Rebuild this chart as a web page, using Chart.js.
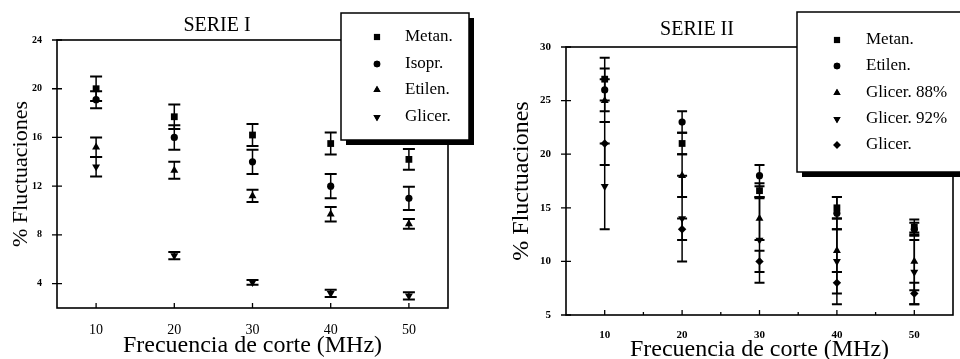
<!DOCTYPE html>
<html>
<head>
<meta charset="utf-8">
<script src="https://cdn.jsdelivr.net/npm/chart.js@4.4.1/dist/chart.umd.min.js"></script>
<style>
body{margin:0;background:#fff;}
#wrap{position:relative;width:960px;height:359px;overflow:hidden;background:#fff;}
canvas{position:absolute;top:0;}
</style>
</head>
<body>
<div id="wrap">
  <canvas id="c1" width="480" height="359" style="left:0"></canvas>
  <canvas id="c2" width="480" height="359" style="left:480px"></canvas>
</div>
<script>
// frecuencia de corte (MHz)
const freq=[10,20,30,40,50];
const xTicks=[10,20,30,40,50];
const xMinor=[15,25,35,45];

// SERIE I
const yTicks1=[4,8,12,16,20,24];
const metan1=[20.0,17.7,16.2,15.5,14.2],  metan1Err=[1.0,1.0,0.9,0.9,0.85];
const isopr1=[19.1,16.0,14.0,12.0,11.0],  isopr1Err=[0.7,1.0,1.0,1.0,0.95];
const etilen1=[15.2,13.3,11.2,9.7,8.9],   etilen1Err=[0.8,0.7,0.5,0.6,0.4];
const glicer1=[13.6,6.3,4.1,3.2,3.0],     glicer1Err=[0.8,0.3,0.2,0.3,0.3];

// SERIE II
const yTicks2=[5,10,15,20,25,30];
const metan2=[27.0,21.0,16.6,15.0,13.2],    metan2Err=[2.0,1.0,0.7,1.0,0.7];
const etilen2=[26.0,23.0,18.0,14.5,13.0],   etilen2Err=[2.0,1.0,1.0,1.5,0.6];
const glicer88=[25.0,18.0,14.0,11.0,10.0],  glicer88Err=[2.0,2.0,2.0,2.0,2.7];
const glicer92=[17.0,14.0,12.0,10.0,9.0],   glicer92Err=[4.0,4.0,4.0,4.0,3.0];
const glicer2=[21.0,13.0,10.0,8.0,7.0],     glicer2Err=[2.0,1.0,1.0,1.0,1.0];

const SERIF='"Liberation Serif","Times New Roman",serif';
const SIZE={rect:4.8,circle:3.6,triangle:4.6,rectRot:4.2};

function ds(label,vals,errs,style,rot){
  return {label,data:freq.map((x,i)=>({x,y:vals[i]})),errs,
    pointStyle:style,pointRotation:rot||0,pointRadius:SIZE[style],pointHoverRadius:SIZE[style],
    backgroundColor:'#000',borderColor:'#000',borderWidth:0,showLine:false};
}

function marker(ctx,style,rot,r,x,y){
  if(Chart.helpers&&Chart.helpers.drawPoint){
    Chart.helpers.drawPoint(ctx,{pointStyle:style,rotation:rot,radius:r,borderWidth:0},x,y);
    ctx.fill();
  }
}

const deco={
  id:'deco',
  beforeDatasetsDraw(chart,args,o){
    const ctx=chart.ctx, ys=chart.scales.y, xs=chart.scales.x, a=chart.chartArea;
    ctx.save();
    ctx.strokeStyle='#000';
    // error bars
    chart.data.datasets.forEach((d,di)=>{
      const meta=chart.getDatasetMeta(di);
      d.data.forEach((p,i)=>{
        const px=meta.data[i].x, t=ys.getPixelForValue(p.y+d.errs[i]), b=ys.getPixelForValue(p.y-d.errs[i]);
        ctx.lineWidth=1.5;
        ctx.beginPath();ctx.moveTo(px,t);ctx.lineTo(px,b);ctx.stroke();
        ctx.lineWidth=2;
        ctx.beginPath();
        ctx.moveTo(px-o.cap,t);ctx.lineTo(px+o.cap,t);
        ctx.moveTo(px-o.cap,b);ctx.lineTo(px+o.cap,b);
        ctx.stroke();
      });
    });
    // frame and inward ticks
    ctx.lineWidth=1.6;
    ctx.strokeRect(a.left,a.top,a.right-a.left,a.bottom-a.top);
    ctx.lineWidth=1.3;
    ctx.beginPath();
    xs.ticks.forEach(t=>{const px=xs.getPixelForValue(t.value);ctx.moveTo(px,a.bottom);ctx.lineTo(px,a.bottom-5);});
    ys.ticks.forEach(t=>{const py=ys.getPixelForValue(t.value);ctx.moveTo(a.left-5,py);ctx.lineTo(a.left+5,py);});
    (o.minor||[]).forEach(v=>{const px=xs.getPixelForValue(v);ctx.moveTo(px,a.bottom);ctx.lineTo(px,a.bottom-3);});
    ctx.stroke();
    ctx.restore();
  },
  afterDraw(chart,args,o){
    const ctx=chart.ctx, L=o.legend;
    ctx.save();
    // title
    ctx.fillStyle='#000';
    ctx.font='20px '+SERIF;
    ctx.textAlign='center';ctx.textBaseline='middle';
    ctx.fillText(o.title,o.titleX,o.titleY);
    // legend box with shadow
    ctx.fillRect(L.x+5,L.y+5,L.w,L.h);
    ctx.fillStyle='#fff';
    ctx.fillRect(L.x,L.y,L.w,L.h);
    ctx.strokeStyle='#000';ctx.lineWidth=1.5;
    ctx.strokeRect(L.x,L.y,L.w,L.h);
    ctx.fillStyle='#000';
    ctx.font='17px '+SERIF;
    ctx.textAlign='left';
    chart.data.datasets.forEach((d,i)=>{
      const y=L.rows[i];
      marker(ctx,d.pointStyle,d.pointRotation,d.pointRadius*0.9,L.mx,y);
      ctx.fillText(d.label,L.tx,y);
    });
    ctx.restore();
  }
};

function makeChart(id,cfg){
  return new Chart(document.getElementById(id),{
    type:'scatter',
    data:{datasets:cfg.datasets},
    options:{
      responsive:false,animation:false,
      layout:{padding:cfg.pad},
      plugins:{legend:{display:false},tooltip:{enabled:false},deco:cfg.deco},
      scales:{
        x:{type:'linear',min:5,max:55,
          afterBuildTicks:s=>{s.ticks=xTicks.map(v=>({value:v}));},
          afterFit:s=>{s.height=cfg.xh;},
          grid:{display:false},border:{display:false},
          ticks:{color:'#000',font:cfg.xtf,padding:cfg.xtp,maxRotation:0},
          title:{display:true,text:'Frecuencia de corte (MHz)',color:'#000',
            font:{family:SERIF,size:24,lineHeight:cfg.xlh},padding:{top:0,bottom:cfg.xpb}}},
        y:{type:'linear',min:cfg.ymin,max:cfg.ymax,
          afterBuildTicks:s=>{s.ticks=cfg.yticks.map(v=>({value:v}));},
          afterFit:s=>{s.width=cfg.yw;},
          grid:{display:false},border:{display:false},
          ticks:{color:'#000',font:cfg.ytf,padding:cfg.ytp},
          title:{display:true,text:'% Fluctuaciones',color:'#000',
            font:{family:SERIF,size:cfg.ysz,lineHeight:1},padding:{top:cfg.ypt,bottom:0}}}
      }
    },
    plugins:[deco]
  });
}

makeChart('c1',{
  datasets:[
    ds('Metan.',metan1,metan1Err,'rect',0),
    ds('Isopr.',isopr1,isopr1Err,'circle',0),
    ds('Etilen.',etilen1,etilen1Err,'triangle',0),
    ds('Glicer.',glicer1,glicer1Err,'triangle',180)
  ],
  pad:{top:40,right:32,left:0,bottom:0},
  xh:51,yw:57,ymin:2,ymax:24,yticks:yTicks1,
  xtf:{family:SERIF,size:14},xtp:6,xlh:1,xpb:1,
  ytf:{family:SERIF,size:10,weight:'bold'},ytp:7,ysz:22,ypt:10,
  deco:{cap:6,title:'SERIE I',titleX:217,titleY:26,
    legend:{x:341,y:13,w:128,h:127,mx:377,tx:405,rows:[37,64,90,117]}}
});

makeChart('c2',{
  datasets:[
    ds('Metan.',metan2,metan2Err,'rect',0),
    ds('Etilen.',etilen2,etilen2Err,'circle',0),
    ds('Glicer. 88%',glicer88,glicer88Err,'triangle',0),
    ds('Glicer. 92%',glicer92,glicer92Err,'triangle',180),
    ds('Glicer.',glicer2,glicer2Err,'rectRot',0)
  ],
  pad:{top:47,right:7,left:0,bottom:0},
  xh:44,yw:86,ymin:5,ymax:30,yticks:yTicks2,
  xtf:{family:SERIF,size:11,weight:'bold'},xtp:6,xlh:0.8,xpb:0,
  ytf:{family:SERIF,size:11,weight:'bold'},ytp:7,ysz:24,ypt:30,
  deco:{cap:5,title:'SERIE II',titleX:217,titleY:30,minor:xMinor,
    legend:{x:317,y:12,w:190,h:160,mx:357,tx:386,rows:[40,66,93,119,145]}}
});
</script>
</body>
</html>
